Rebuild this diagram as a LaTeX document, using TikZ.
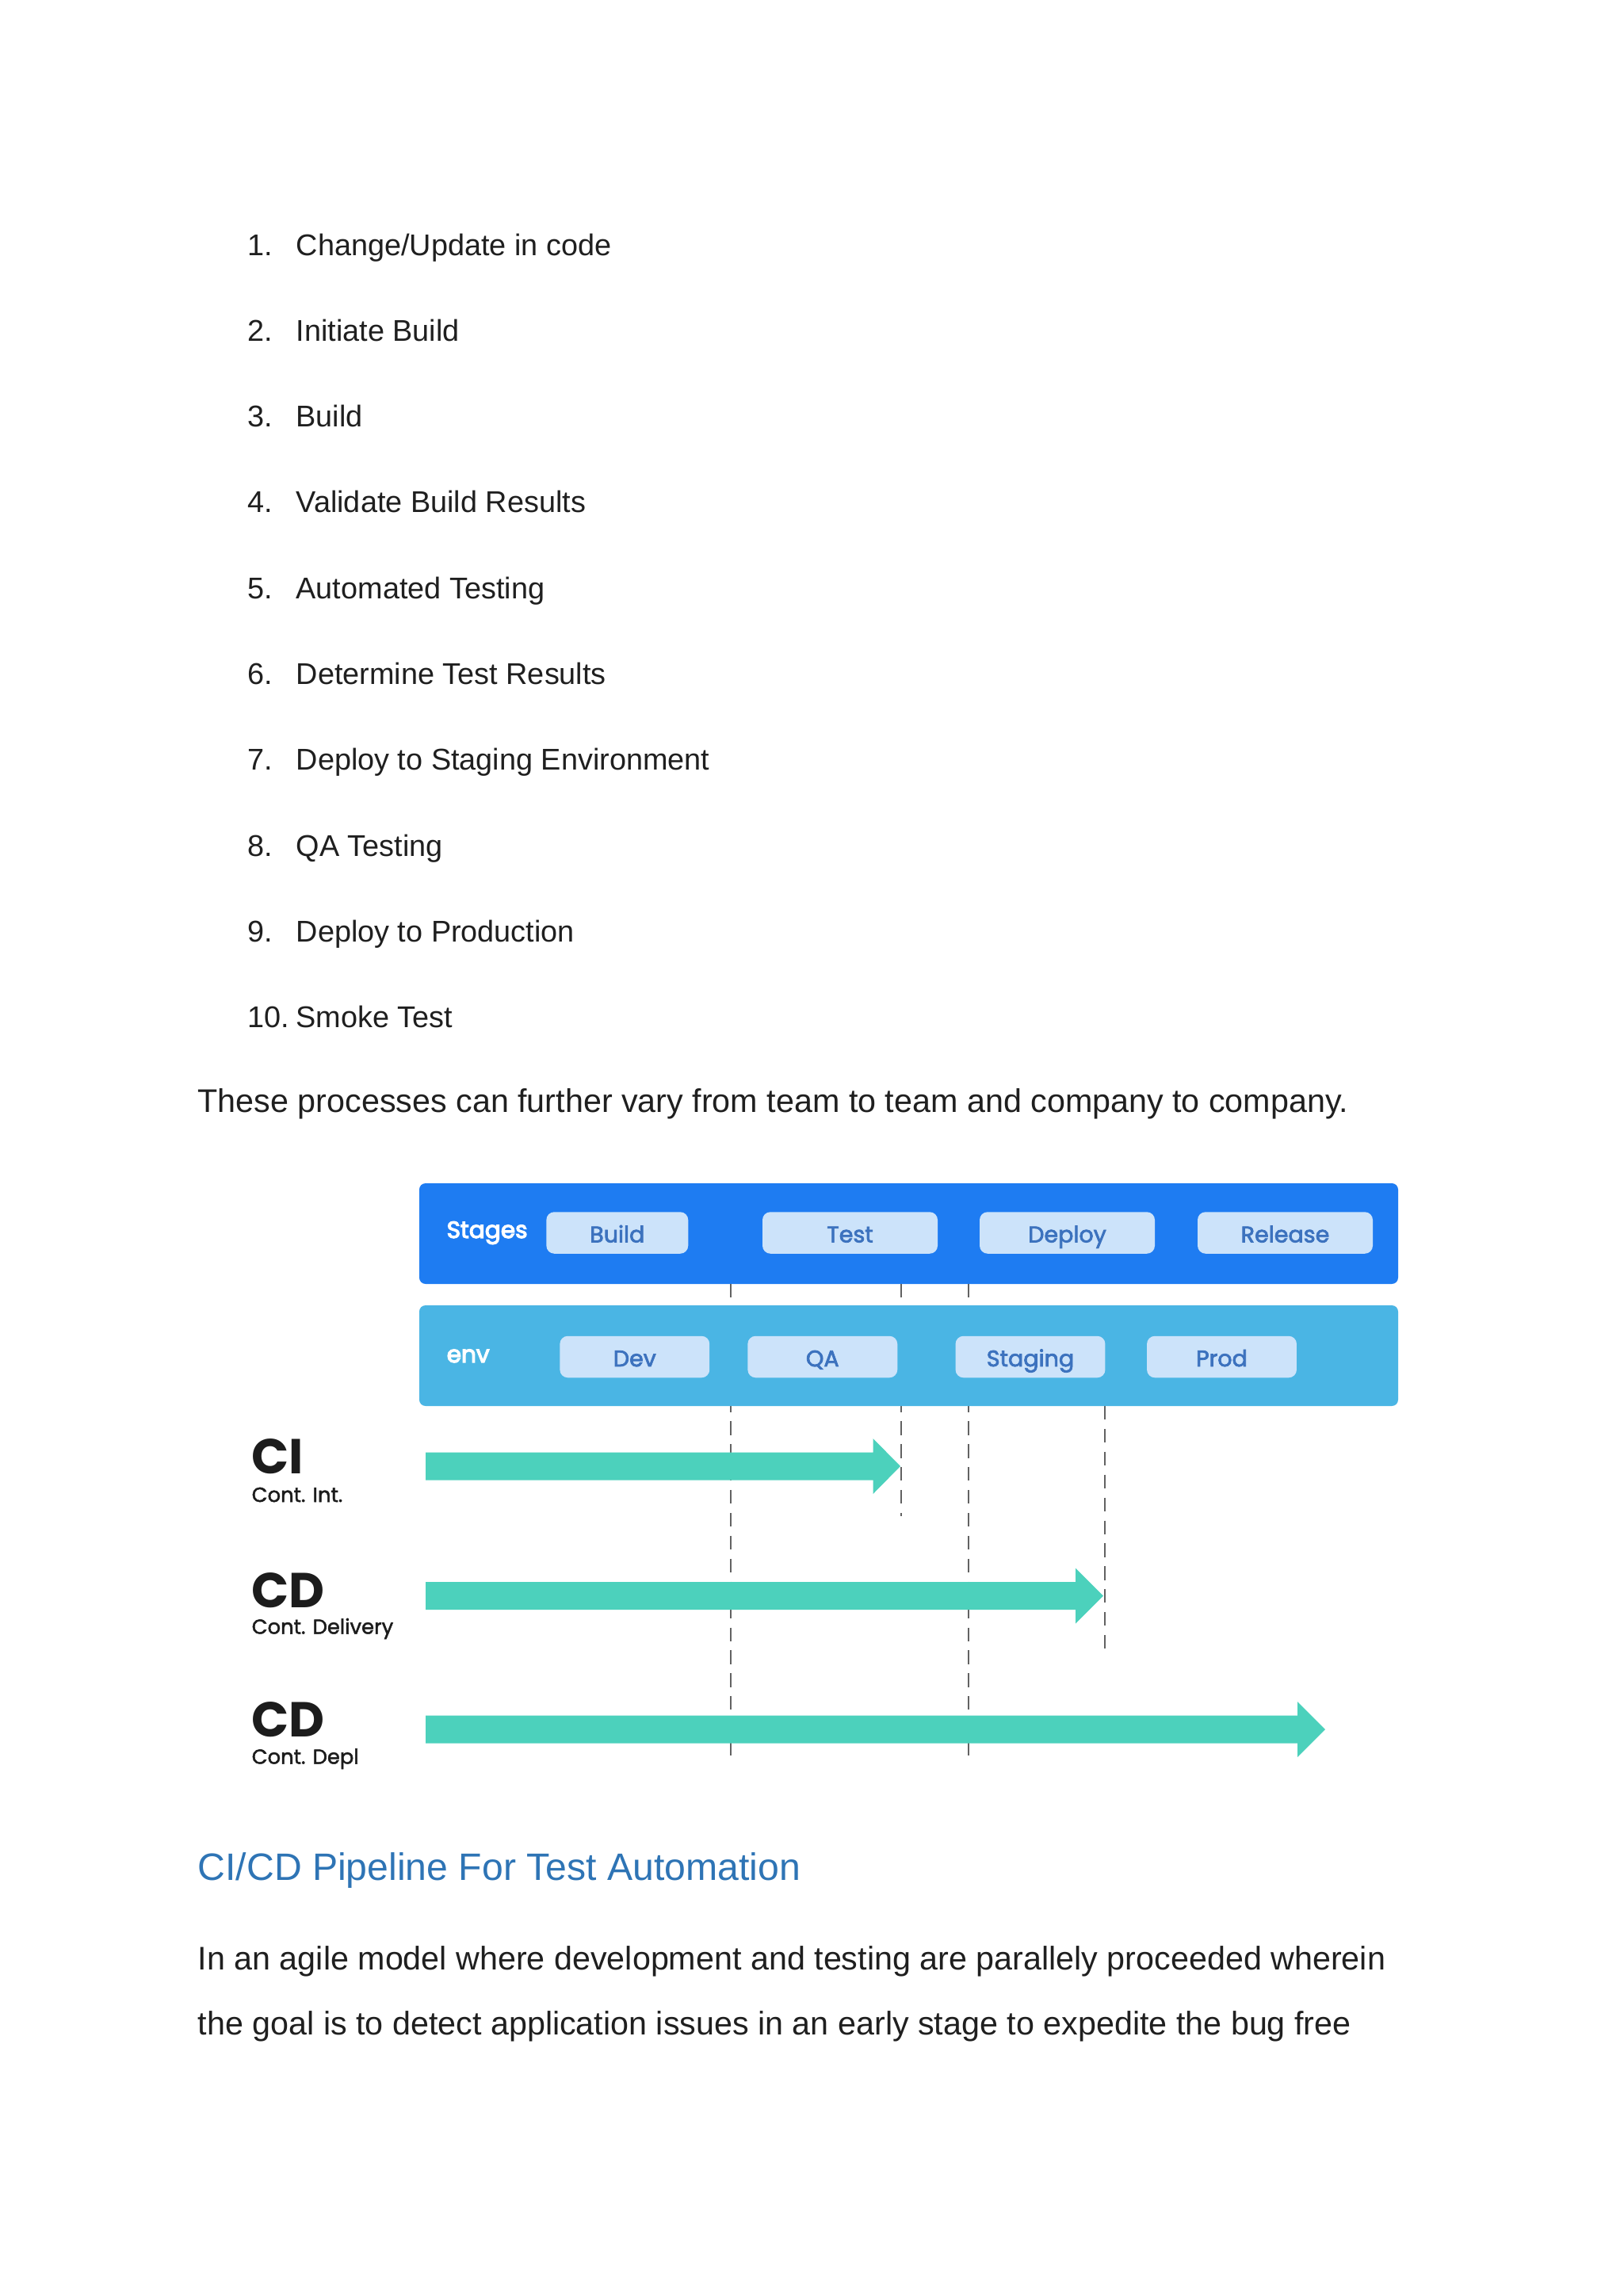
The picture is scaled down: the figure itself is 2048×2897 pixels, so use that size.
\documentclass[tikz,border=0pt]{standalone}
\usepackage{fontspec}
\setmainfont{Liberation Sans}
\newfontfamily\pop{Poppins}
\newfontfamily\popb{Poppins}[FakeBold=4]
\newfontfamily\popsb{Poppins}[FakeBold=2.6]
\newfontfamily\popmd{Poppins}[FakeBold=1.8]
\definecolor{stagebg}{HTML}{1E7CF2}
\definecolor{envbg}{HTML}{4AB5E4}
\definecolor{pillbg}{HTML}{CCE3FA}
\definecolor{pilltx}{HTML}{3C72BE}
\definecolor{arrowteal}{HTML}{4CD1BC}
\definecolor{headblue}{HTML}{2E74B5}
\definecolor{txt}{HTML}{1F1F1F}
\definecolor{lbl}{HTML}{1C1C1C}
\definecolor{dashgray}{HTML}{626262}
\begin{document}
\begin{tikzpicture}[x=0.290665pt, y=-0.290665pt,
  listtext/.style={anchor=base west, inner sep=0pt, text=txt, font=\fontsize{11}{13}\selectfont},
  bodytext/.style={anchor=base west, inner sep=0pt, text=txt, font=\fontsize{12}{14}\selectfont},
  headtext/.style={anchor=base west, inner sep=0pt, text=headblue, font=\fontsize{14}{16}\selectfont},
  pill/.style={fill=pillbg, rounded corners=2.9pt, inner sep=0pt, minimum height=15.26pt,
     text=pilltx, font=\popsb\fontsize{8.3}{10}\selectfont, text height=0.7em, text depth=0pt},
  rowlabel/.style={anchor=base west, inner sep=0pt, text=white, font=\popb\fontsize{8.6}{10}\selectfont},
  biglabel/.style={anchor=base west, inner sep=0pt, text=lbl, font=\pop\bfseries\fontsize{18}{20}\selectfont},
  smalllabel/.style={anchor=base west, inner sep=0pt, text=lbl, font=\popmd\fontsize{7.5}{9}\selectfont},
  dashline/.style={draw=dashgray, line width=0.8pt, dash pattern=on 5pt off 3.4pt},
  bigarrow/.style={fill=arrowteal}
]
\useasboundingbox (0,0) rectangle (2048,2897);
\fill[white] (0,0) rectangle (2048,2897);

% numbered list
\foreach \t [count=\i] in {Change/Update in code, Initiate Build, Build, Validate Build Results,
  Automated Testing, Determine Test Results, Deploy to Staging Environment, QA Testing,
  Deploy to Production, Smoke Test}{
  \node[listtext] (num\i) at (312, {322+108.3*(\i-1)}) {\i.};
  \node[listtext] (item\i) at (373, {322+108.3*(\i-1)}) {\t};
}

\node[bodytext] (line0) at (249,1403) {These processes can further vary from team to team and company to company.};

% stages box
\fill[stagebg, rounded corners=2.3pt] (529,1493) rectangle (1764,1620);

% dashed guide lines
\coordinate (d1a) at (922,1620);  \coordinate (d1b) at (922,2218);
\coordinate (d2a) at (1137,1620); \coordinate (d2b) at (1137,1913);
\coordinate (d3a) at (1222,1620); \coordinate (d3b) at (1222,2218);
\coordinate (d4a) at (1394,1774); \coordinate (d4b) at (1394,2080);
\draw[dashline] (d1a) -- (d1b);
\draw[dashline] (d2a) -- (d2b);
\draw[dashline] (d3a) -- (d3b);
\draw[dashline] (d4a) -- (d4b);

% env box
\fill[envbg, rounded corners=2.3pt] (529,1647) rectangle (1764,1774);

% stage pills
\node[rowlabel] (stages) at (563,1562) {Stages};
\node[pill, minimum width=52pt] (build) at (778.8,1555.5) {Build};
\node[pill, minimum width=64.24pt] (test) at (1072.5,1555.5) {Test};
\node[pill, minimum width=64.24pt] (deploy) at (1346.5,1555.5) {Deploy};
\node[pill, minimum width=64.24pt] (release) at (1621.5,1555.5) {Release};

% env pills
\node[rowlabel] (env) at (563,1719) {env};
\node[pill, minimum width=54.9pt] (dev) at (800.8,1712) {Dev};
\node[pill, minimum width=54.9pt] (qa) at (1037.8,1712) {QA};
\node[pill, minimum width=54.9pt] (staging) at (1300,1712) {Staging};
\node[pill, minimum width=54.9pt] (prod) at (1541.5,1712) {Prod};

% arrows
\fill[bigarrow] (537,1832.5) -- (1101.5,1832.5) -- (1101.5,1815) -- (1136,1850)
  -- (1101.5,1885) -- (1101.5,1867.5) -- (537,1867.5) -- cycle;
\fill[bigarrow] (537,1996) -- (1357,1996) -- (1357,1978.5) -- (1392,2013.5)
  -- (1357,2048.5) -- (1357,2031) -- (537,2031) -- cycle;
\fill[bigarrow] (537,2164.5) -- (1637,2164.5) -- (1637,2147) -- (1672,2182)
  -- (1637,2217) -- (1637,2199.5) -- (537,2199.5) -- cycle;

% left labels
\node[biglabel] (ci) at (317,1859) {CI};
\node[smalllabel] (cisub) at (317,1895) {Cont. Int.};
\node[biglabel] (cd1) at (317,2028) {CD};
\node[smalllabel] (cd1sub) at (317,2061.5) {Cont. Delivery};
\node[biglabel] (cd2) at (317,2191) {CD};
\node[smalllabel] (cd2sub) at (317,2225.5) {Cont. Depl};

% heading and paragraph
\node[headtext] (heading) at (249,2372) {CI/CD Pipeline For Test Automation};
\node[bodytext] (para1) at (249,2485) {In an agile model where development and testing are parallely proceeded wherein};
\node[bodytext] (para2) at (249,2567) {the goal is to detect application issues in an early stage to expedite the bug free};
\end{tikzpicture}
\end{document}
